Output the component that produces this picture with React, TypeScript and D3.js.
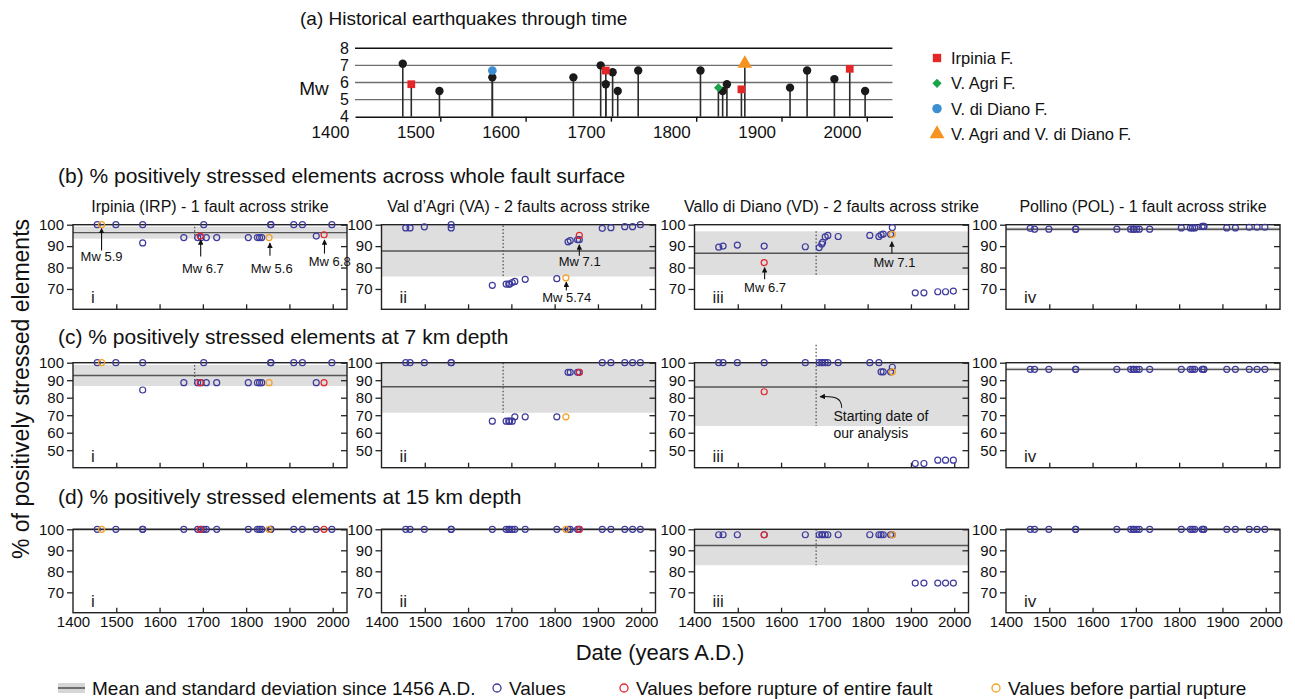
import React, { useEffect, useRef } from 'react'
import * as d3 from 'd3'

// ---- (a) historical earthquakes
const eqYears = [1456, 1466, 1499, 1561, 1561, 1656, 1688, 1694, 1694, 1702, 1708, 1732, 1805, 1826, 1831, 1836, 1853, 1857, 1910, 1930, 1962, 1980, 1998]
const eqMw = [7.1, 5.9, 5.5, 6.3, 6.7, 6.3, 7.0, 6.7, 5.9, 6.6, 5.5, 6.7, 6.7, 5.7, 5.5, 5.9, 5.6, 7.1, 5.7, 6.7, 6.2, 6.8, 5.5]
const eqFault = ['o', 'irp', 'o', 'o', 'vd', 'o', 'o', 'irp', 'o', 'o', 'o', 'o', 'o', 'va', 'o', 'o', 'irp', 'vavd', 'o', 'o', 'o', 'irp', 'o']
const faultKeys = ['irp', 'va', 'vd', 'vavd']
const faultLabels = ['Irpinia F.', 'V. Agri F.', 'V. di Diano F.', 'V. Agri and V. di Diano F.']
const axisYearsA = [1400, 1500, 1600, 1700, 1800, 1900, 2000]

// ---- (b)-(d) stress values at each earthquake date
const dates = [1456, 1466, 1499, 1561, 1561, 1656, 1688, 1694, 1696, 1702, 1708, 1732, 1805, 1826, 1831, 1836, 1853, 1857, 1857, 1910, 1930, 1962, 1980, 1998]

const irpWhole = [100, 100, 100, 100, 91.5, 94, 94, 94.7, 94, 100, 94, 94, 94, 94, 94, 94, 94, 100, 100, 100, 100, 94.7, 95.3, 100]
const vaWhole = [98.5, 98.5, 99, 100, 98.5, 71.7, 72.3, 72.3, 72.3, 73, 73.5, 74.5, 74.8, 75.2, 92, 92.6, 93, 93, 95, 98.3, 98.6, 99.1, 99.1, 100]
const vdWhole = [89.5, 90, 90.5, 90, 82.3, 89.7, 89.3, 91, 91.8, 94.3, 95, 94.5, 95, 94.5, 95.3, 95.6, 95.5, 98.7, 95.5, 68.2, 68.2, 68.7, 68.7, 69]
const polWhole = [98.3, 97.9, 97.9, 97.9, 97.9, 97.9, 97.9, 97.9, 97.9, 97.9, 97.9, 97.9, 98.5, 98.5, 98.5, 98.5, 99.2, 99.2, 99.2, 98.5, 98.5, 98.8, 98.8, 98.8]

const irp7 = [100, 100, 100, 100, 84.4, 88.6, 88.6, 88.6, 88.6, 100, 88.6, 88.6, 88.6, 88.6, 88.6, 88.6, 88.6, 100, 100, 100, 100, 88.6, 88.6, 100]
const va7 = [100, 100, 100, 100, 100, 66.6, 66.6, 66.6, 66.6, 66.6, 69.1, 69.1, 69.1, 69.1, 94.5, 94.5, 94.5, 94.5, 94.5, 100, 100, 100, 100, 100]
const vd7 = [100, 100, 100, 100, 83.4, 100, 100, 100, 100, 100, 100, 100, 100, 100, 94.8, 94.8, 94.8, 97.4, 94.8, 42.4, 42.4, 44.3, 44.3, 44.3]
const pol7 = [96.2, 96.2, 96.2, 96.2, 96.2, 96.2, 96.2, 96.2, 96.2, 96.2, 96.2, 96.2, 96.2, 96.2, 96.2, 96.2, 96.2, 96.2, 96.2, 96.2, 96.2, 96.2, 96.2, 96.2]

const irp15 = [100, 100, 100, 100, 100, 100, 100, 100, 100, 100, 100, 100, 100, 100, 100, 100, 100, 100, 100, 100, 100, 100, 100, 100]
const va15 = [100, 100, 100, 100, 100, 100, 100, 100, 100, 100, 100, 100, 100, 100, 100, 100, 100, 100, 100, 100, 100, 100, 100, 100]
const vd15 = [97.4, 97.4, 97.4, 97.4, 97.4, 97.4, 97.4, 97.4, 97.4, 97.4, 97.4, 97.4, 97.4, 97.4, 97.4, 97.4, 97.4, 97.4, 97.4, 74.4, 74.4, 74.4, 74.4, 74.4]
const pol15 = [100, 100, 100, 100, 100, 100, 100, 100, 100, 100, 100, 100, 100, 100, 100, 100, 100, 100, 100, 100, 100, 100, 100, 100]

// which dates precede a full / partial rupture, per fault (indices into dates)
const fullRupture = [[7, 22], [18], [4], []]
const partialRupture = [[1, 16], [13], [18], []]

// mean and standard deviation since 1456, [row][fault]
const means = [[96.3, 87.7, 86.7, 97.9], [92.7, 86.3, 86.1, 96.2], [99.9, 99.9, 92.3, 99.9]]
const sds = [[2.8, 11.9, 10.2, 0.9], [6.0, 14.9, 22.3, 1.0], [0.3, 0.3, 9.4, 0.3]]

const values = [
  [irpWhole, vaWhole, vdWhole, polWhole],
  [irp7, va7, vd7, pol7],
  [irp15, va15, vd15, pol15],
]

const faultTitles = ['Irpinia (IRP) - 1 fault across strike', "Val d\u2019Agri (VA) - 2 faults across strike", 'Vallo di Diano (VD) - 2 faults across strike', 'Pollino (POL) - 1 fault across strike']
const romans = ['i', 'ii', 'iii', 'iv']
const startYear = 1681
const dateTicks = [1400, 1500, 1600, 1700, 1800, 1900, 2000]

// annotations on row (b): fault, year, arrow tip, arrow tail, label year, label value
const notes = [
  { f: 0, yr: 1466, tip: 98.2, tail: 88, lx: 1466, ly: 85.1, t: 'Mw 5.9' },
  { f: 0, yr: 1695, tip: 92.9, tail: 85.2, lx: 1700, ly: 79.4, t: 'Mw 6.7' },
  { f: 0, yr: 1855, tip: 91.4, tail: 85.5, lx: 1859, ly: 79.7, t: 'Mw 5.6' },
  { f: 0, yr: 1981, tip: 92.9, tail: 86.5, lx: 1993, ly: 82.8, t: 'Mw 6.8' },
  { f: 1, yr: 1857, tip: 90.6, tail: 85.5, lx: 1858, ly: 82.9, t: 'Mw 7.1' },
  { f: 1, yr: 1827, tip: 73.2, tail: 69.3, lx: 1828, ly: 66, t: 'Mw 5.74' },
  { f: 2, yr: 1562, tip: 79.9, tail: 74.5, lx: 1563, ly: 70.6, t: 'Mw 6.7' },
  { f: 2, yr: 1856, tip: 92, tail: 86.5, lx: 1862, ly: 82.3, t: 'Mw 7.1' },
]

const BLUE = '#3d3a9b'
const RED = '#e3262c'
const ORANGE = '#f4a024'
const FAULT_COLORS: Record<string, string> = { irp: '#e52629', va: '#1ba34b', vd: '#3d8fd1', vavd: '#f5931e' }

export default function App() {
  const ref = useRef<SVGSVGElement>(null)

  useEffect(() => {
    if (!ref.current) return
    const svg = d3.select(ref.current)
    svg.selectAll('*').remove()
    svg.attr('font-family', '"Liberation Sans", Arial, sans-serif')

    const defs = svg.append('defs')
    defs
      .append('marker')
      .attr('id', 'ah')
      .attr('viewBox', '0 0 8 8')
      .attr('refX', 7)
      .attr('refY', 4)
      .attr('markerWidth', 5)
      .attr('markerHeight', 5)
      .attr('orient', 'auto')
      .append('path')
      .attr('d', 'M0,0L8,4L0,8Z')
      .attr('fill', '#111')

    const symbolFor = (k: string, size: number) => {
      if (k === 'irp') return d3.symbol(d3.symbolSquare, size)()
      if (k === 'va') return d3.symbol(d3.symbolDiamond2, size)()
      if (k === 'vd') return d3.symbol(d3.symbolCircle, size)()
      return d3.symbol(d3.symbolTriangle, size)()
    }

    // ================= (a) =================
    const xA = d3.scaleLinear().domain([1400, 2030]).range([355, 892.4])
    const xALab = d3.scaleLinear().domain([1400, 2000]).range([330, 842])
    const yA = d3.scaleLinear().domain([4, 8]).range([116.7, 48.3])
    const gA = svg.append('g')

    gA.append('text').attr('x', 300).attr('y', 25).attr('font-size', 19).attr('fill', '#111')
      .text('(a) Historical earthquakes through time')

    gA.selectAll('line.grid').data([5, 6, 7]).join('line')
      .attr('x1', xA(1400)).attr('x2', xA(2030))
      .attr('y1', (d) => yA(d)).attr('y2', (d) => yA(d))
      .attr('stroke', '#6e6e6e').attr('stroke-width', 1.4)
    gA.append('line').attr('x1', xA(1400)).attr('x2', xA(2030)).attr('y1', yA(8)).attr('y2', yA(8))
      .attr('stroke', '#111').attr('stroke-width', 1.4)

    const axA = gA.append('g').attr('transform', `translate(0,${yA(4)})`)
      .call(d3.axisBottom(xA).tickValues(axisYearsA.slice(1)).tickSize(5).tickSizeOuter(0).tickFormat(() => ''))
    axA.select('.domain').attr('stroke', '#111').attr('stroke-width', 1.6)
    axA.selectAll('.tick line').attr('stroke', '#111').attr('stroke-width', 1.4)

    const labA = gA.append('g').attr('transform', `translate(0,${yA(4) + 6})`)
      .call(d3.axisBottom(xALab).tickValues(axisYearsA).tickSize(0).tickPadding(3).tickFormat(d3.format('d')))
    labA.select('.domain').remove()
    labA.selectAll('text').attr('font-size', 17).attr('fill', '#111').attr('font-family', null)

    const yLabA = gA.append('g').attr('transform', `translate(349,0)`)
      .call(d3.axisLeft(yA).tickValues([4, 5, 6, 7, 8]).tickSize(0).tickPadding(0).tickFormat(d3.format('d')))
    yLabA.select('.domain').remove()
    yLabA.selectAll('text').attr('font-size', 16).attr('fill', '#111').attr('font-family', null)

    gA.append('text').attr('x', 314).attr('y', 95).attr('text-anchor', 'middle').attr('font-size', 19).attr('fill', '#111').text('Mw')

    const eq = eqYears.map((y, i) => ({ y, mw: eqMw[i], f: eqFault[i] }))
    const order = [...eq].sort((a, b) => (a.f === 'o' ? 0 : 1) - (b.f === 'o' ? 0 : 1))
    gA.selectAll('line.stem').data(order).join('line')
      .attr('x1', (d) => xA(d.y)).attr('x2', (d) => xA(d.y))
      .attr('y1', yA(4)).attr('y2', (d) => yA(d.mw))
      .attr('stroke', '#2a2a2a').attr('stroke-width', 1.6)
    gA.selectAll('path.mk').data(order).join('path')
      .attr('transform', (d) => `translate(${xA(d.y)},${yA(d.mw)})`)
      .attr('d', (d) => (d.f === 'o' ? d3.symbol(d3.symbolCircle, 55)() : symbolFor(d.f, d.f === 'vavd' ? 90 : d.f === 'va' ? 50 : 60)))
      .attr('fill', (d) => (d.f === 'o' ? '#1a1a1a' : FAULT_COLORS[d.f]))

    const legA = gA.append('g')
    faultKeys.forEach((k, i) => {
      const cy = 58 + i * 25.3
      legA.append('path').attr('transform', `translate(937,${cy})`)
        .attr('d', symbolFor(k, k === 'vavd' ? 95 : k === 'va' ? 55 : 70)).attr('fill', FAULT_COLORS[k])
      legA.append('text').attr('x', 951).attr('y', cy + 6).attr('font-size', 16.5).attr('fill', '#111').text(faultLabels[i])
    })

    // ================= (b)-(d) =================
    const L = [73, 381.5, 694.5, 1006]
    const W = 274
    const rows = [
      { title: '(b) % positively stressed elements across whole fault surface', ty: 182.5, top: 224.7, bottom: 309.3, dom: [60.5, 100], ticks: [70, 80, 90, 100] },
      { title: '(c) % positively stressed elements at 7 km depth', ty: 344, top: 362.7, bottom: 467.7, dom: [40, 100], ticks: [50, 60, 70, 80, 90, 100] },
      { title: '(d) % positively stressed elements at 15 km depth', ty: 504, top: 529.3, bottom: 612.7, dom: [60.3, 100], ticks: [70, 80, 90, 100] },
    ]

    rows.forEach((row, r) => {
      svg.append('text').attr('x', 58).attr('y', row.ty).attr('font-size', 21).attr('fill', '#111').text(row.title)

      for (let c = 0; c < 4; c++) {
        const g = svg.append('g')
        const x = d3.scaleLinear().domain([1400, 2033]).range([L[c], L[c] + W])
        const y = d3.scaleLinear().domain(row.dom).range([row.bottom, row.top])
        const m = means[r][c]
        const s = sds[r][c]
        const hi = Math.min(m + s, 100)
        const lo = Math.max(m - s, row.dom[0])

        g.append('rect').attr('x', x(1400)).attr('width', W).attr('y', y(hi)).attr('height', y(lo) - y(hi)).attr('fill', '#dedede')
        g.append('line').attr('x1', x(1400)).attr('x2', x(2033)).attr('y1', y(m)).attr('y2', y(m)).attr('stroke', '#555').attr('stroke-width', 1.4)

        const dTop = r === 1 && c === 2 ? row.top - 18 : y(hi)
        g.append('line').attr('x1', x(startYear)).attr('x2', x(startYear)).attr('y1', dTop).attr('y2', y(lo))
          .attr('stroke', '#555').attr('stroke-width', 1.3).attr('stroke-dasharray', '1.5,2')

        g.append('rect').attr('x', x(1400)).attr('y', y(100)).attr('width', W).attr('height', y(row.dom[0]) - y(100))
          .attr('fill', 'none').attr('stroke', '#222').attr('stroke-width', 1.4)

        const yl = g.append('g').attr('transform', `translate(${x(1400)},0)`)
          .call(d3.axisLeft(y).tickValues(row.ticks).tickSize(6).tickPadding(3).tickSizeOuter(0).tickFormat(d3.format('d')))
        yl.select('.domain').remove()
        yl.selectAll('.tick line').attr('stroke', '#222').attr('stroke-width', 1.3)
        yl.selectAll('text').attr('font-size', 15).attr('fill', '#111').attr('font-family', null)

        const yr = g.append('g').attr('transform', `translate(${x(2033)},0)`)
          .call(d3.axisLeft(y).tickValues(row.ticks).tickSize(6).tickSizeOuter(0).tickFormat(() => ''))
        yr.select('.domain').remove()
        yr.selectAll('.tick line').attr('stroke', '#222').attr('stroke-width', 1.3)

        const xb = g.append('g').attr('transform', `translate(0,${row.bottom})`)
          .call(d3.axisTop(x).tickValues(dateTicks.slice(1)).tickSize(5).tickSizeOuter(0).tickFormat(() => ''))
        xb.select('.domain').remove()
        xb.selectAll('.tick line').attr('stroke', '#222').attr('stroke-width', 1.3)

        if (r === 2) {
          const xl = g.append('g').attr('transform', `translate(0,${row.bottom})`)
            .call(d3.axisBottom(x).tickValues(dateTicks).tickSize(0).tickPadding(4).tickFormat(d3.format('d')))
          xl.select('.domain').remove()
          xl.selectAll('text').attr('font-size', 15).attr('fill', '#111').attr('font-family', null)
        }

        if (r === 0) {
          svg.append('text').attr('x', L[c] + W / 2).attr('y', 212).attr('text-anchor', 'middle')
            .attr('font-size', 16).attr('fill', '#111').text(faultTitles[c])
        }

        g.append('text').attr('x', L[c] + 18).attr('y', row.bottom - 6).attr('font-size', 17).attr('fill', '#222').text(romans[c])

        const pts = dates.map((d, i) => ({
          d,
          v: values[r][c][i],
          k: fullRupture[c].includes(i) ? 'r' : partialRupture[c].includes(i) ? 'o' : 'v',
        }))
        pts.sort((a, b) => (a.k === 'v' ? 0 : 1) - (b.k === 'v' ? 0 : 1))
        g.selectAll('circle').data(pts).join('circle')
          .attr('cx', (p) => x(p.d)).attr('cy', (p) => y(p.v)).attr('r', 3)
          .attr('fill', 'none')
          .attr('stroke', (p) => (p.k === 'r' ? RED : p.k === 'o' ? ORANGE : BLUE))
          .attr('stroke-width', 1.2)

        if (r === 0) {
          notes.filter((n) => n.f === c).forEach((n) => {
            g.append('line').attr('x1', x(n.yr)).attr('x2', x(n.yr)).attr('y1', y(n.tail)).attr('y2', y(n.tip))
              .attr('stroke', '#111').attr('stroke-width', 1.1).attr('marker-end', 'url(#ah)')
            g.append('text').attr('x', x(n.lx)).attr('y', y(n.ly)).attr('dy', '0.35em').attr('text-anchor', 'middle')
              .attr('font-size', 13).attr('fill', '#111').text(n.t)
          })
        }

        if (r === 1 && c === 2) {
          g.append('path').attr('d', `M${x(1740)},${y(74.3)} C${x(1740)},${y(80)} ${x(1725)},${y(81)} ${x(startYear) + 4},${y(80.6)}`)
            .attr('fill', 'none').attr('stroke', '#111').attr('stroke-width', 1.1).attr('marker-end', 'url(#ah)')
          g.append('text').attr('x', x(1721)).attr('y', y(66.7)).attr('font-size', 14).attr('fill', '#111').text('Starting date of')
          g.append('text').attr('x', x(1721)).attr('y', y(57)).attr('font-size', 14).attr('fill', '#111').text('our analysis')
        }
      }
    })

    // axis titles
    svg.append('text').attr('transform', 'translate(29,389) rotate(-90)').attr('text-anchor', 'middle')
      .attr('font-size', 23).attr('fill', '#111').text('% of positively stressed elements')
    svg.append('text').attr('x', 660).attr('y', 660).attr('text-anchor', 'middle')
      .attr('font-size', 22).attr('fill', '#111').text('Date (years A.D.)')

    // bottom legend
    const lg = svg.append('g')
    lg.append('rect').attr('x', 58).attr('y', 683).attr('width', 27).attr('height', 10).attr('fill', '#d6d6d6')
    lg.append('line').attr('x1', 58).attr('x2', 85).attr('y1', 688).attr('y2', 688).attr('stroke', '#555').attr('stroke-width', 1.6)
    const legItems = [
      { x: 92, t: 'Mean and standard deviation since 1456 A.D.', col: '' },
      { x: 509, t: 'Values', col: BLUE },
      { x: 636, t: 'Values before rupture of entire fault', col: RED },
      { x: 1008, t: 'Values before partial rupture', col: ORANGE },
    ]
    legItems.forEach((it) => {
      if (it.col) {
        lg.append('circle').attr('cx', it.x - 12).attr('cy', 688).attr('r', 4).attr('fill', 'none').attr('stroke', it.col).attr('stroke-width', 1.3)
      }
      lg.append('text').attr('x', it.x).attr('y', 695).attr('font-size', 19).attr('fill', '#111').text(it.t)
    })
  }, [])

  return (
    <svg
      ref={ref}
      width={1295}
      height={699}
      style={{ position: 'absolute', left: 0, top: 0, background: '#fff' }}
    />
  )
}
